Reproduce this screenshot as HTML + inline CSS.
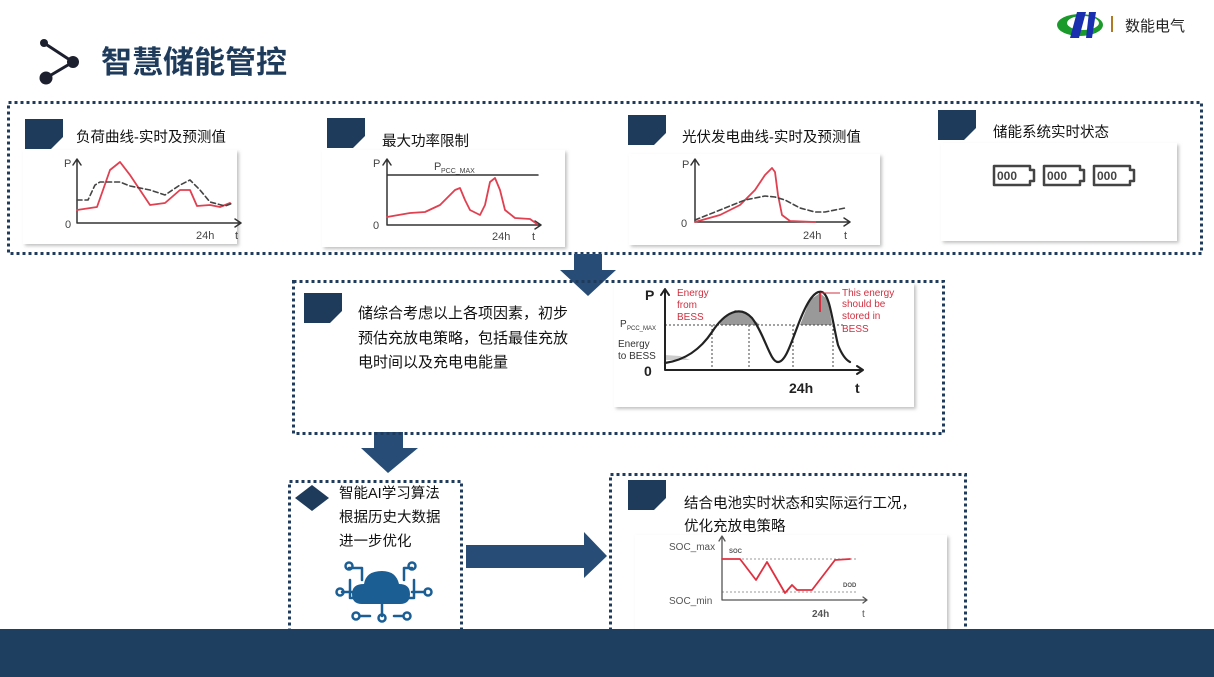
<!DOCTYPE html>
<html><head><meta charset="utf-8"><style>
body{margin:0;width:1214px;height:677px;overflow:hidden;background:#fff}
svg{display:block}
text{font-family:"Liberation Sans","Noto Sans CJK SC",sans-serif}
path{stroke-linejoin:round;stroke-linecap:round}
</style></head><body>
<svg width="1214" height="677" viewBox="0 0 1214 677" xmlns="http://www.w3.org/2000/svg">
<defs>
<filter id="sh" x="-5%" y="-5%" width="115%" height="120%"><feDropShadow dx="2" dy="2" stdDeviation="1.5" flood-color="#999" flood-opacity="0.6"/></filter>
<g id="ic"><path d="M0 0H38V18L26 30H0Z" fill="#1f3b5c"/></g>
</defs>
<!-- header -->
<line x1="44" y1="43" x2="73" y2="62" stroke="#1c1f2e" stroke-width="3"/>
<line x1="73" y1="62" x2="46" y2="78" stroke="#1c1f2e" stroke-width="3"/>
<circle cx="44" cy="43" r="4" fill="#1c1f2e"/><circle cx="73" cy="62" r="6" fill="#1c1f2e"/><circle cx="46" cy="78" r="6.5" fill="#1c1f2e"/>
<text x="101" y="73" font-size="31" font-weight="bold" fill="#1f3b5c">智慧储能管控</text>
<ellipse cx="1080" cy="25" rx="23" ry="11" fill="#1a9a2a"/>
<ellipse cx="1083" cy="23" rx="16" ry="7" fill="#fff"/>
<path d="M1077 12 L1086 12 L1079 38 L1070 38 Z" fill="#1a2fb0"/>
<path d="M1089 12 L1096 12 L1092 38 L1086 38 Z" fill="#1a2fb0"/>
<rect x="1111" y="16" width="2" height="16" fill="#b07a20"/>
<text x="1125" y="31" font-size="15" fill="#222">数能电气</text>

<!-- top box -->
<rect x="8.5" y="102.5" width="1193" height="151" fill="none" stroke="#1f3b5c" stroke-width="3" stroke-dasharray="3 3"/>
<use href="#ic" x="25" y="119"/><use href="#ic" x="327" y="118"/><use href="#ic" x="628" y="115"/><use href="#ic" x="938" y="110"/>
<g font-size="14.5" fill="#111">
<text x="76" y="142">负荷曲线-实时及预测值</text>
<text x="382" y="146">最大功率限制</text>
<text x="682" y="142">光伏发电曲线-实时及预测值</text>
<text x="993" y="137">储能系统实时状态</text></g>

<!-- chart1 -->
<rect x="23" y="150" width="214" height="94" fill="#fff" filter="url(#sh)"/>
<g stroke="#333" stroke-width="1.5" fill="none"><path d="M77 223V160M73 165L77 159L81 165M77 223H240M235 219L241 223L235 227"/></g>
<path d="M77 210 L97 207 L103 190 L110 170 L120 162 L130 175 L150 205 L165 203 L180 190 L190 190 L197 206 L210 205 L220 207 L230 203" stroke="#e04050" stroke-width="1.8" fill="none"/>
<path d="M77 200 L88 200 L95 185 L100 182 L120 182 L130 186 L150 190 L165 195 L180 185 L190 180 L200 190 L210 202 L225 206 L233 203" stroke="#444" stroke-width="1.6" stroke-dasharray="5 3" fill="none"/>
<g font-size="11" fill="#444"><text x="64" y="167">P</text><text x="65" y="228">0</text><text x="196" y="239">24h</text><text x="235" y="239">t</text></g>

<!-- chart2 -->
<rect x="322" y="150" width="243" height="97" fill="#fff" filter="url(#sh)"/>
<g stroke="#333" stroke-width="1.5" fill="none"><path d="M387 225V160M383 165L387 159L391 165M387 225H540M535 221L541 225L535 229M387 175H538"/></g>
<path d="M387 217 L410 213 L425 212 L440 205 L450 195 L455 190 L460 188 L465 200 L470 210 L480 215 L485 205 L490 182 L495 178 L500 190 L505 210 L515 218 L530 219 L537 224" stroke="#e04050" stroke-width="1.8" fill="none"/>
<g font-size="11" fill="#444"><text x="373" y="167">P</text><text x="373" y="229">0</text><text x="492" y="240">24h</text><text x="532" y="240">t</text><text x="434" y="170">P</text><text x="441" y="173" font-size="7">PCC_MAX</text></g>

<!-- chart3 -->
<rect x="629" y="154" width="251" height="91" fill="#fff" filter="url(#sh)"/>
<g stroke="#333" stroke-width="1.5" fill="none"><path d="M695 222V160M691 165L695 159L699 165M695 222H849M844 218L850 222L844 226"/></g>
<path d="M695 222 L720 215 L740 205 L755 190 L765 175 L772 168 L775 172 L778 195 L782 215 L790 221 L815 222" stroke="#e04050" stroke-width="1.8" fill="none"/>
<path d="M695 220 L720 210 L745 200 L765 196 L775 197 L785 200 L800 208 L815 212 L825 212 L845 208" stroke="#444" stroke-width="1.6" stroke-dasharray="5 3" fill="none"/>
<g font-size="11" fill="#444"><text x="682" y="168">P</text><text x="681" y="227">0</text><text x="803" y="239">24h</text><text x="844" y="239">t</text></g>

<!-- panel4 -->
<rect x="941" y="143" width="236" height="98" fill="#fff" filter="url(#sh)"/>
<g stroke="#444" stroke-width="2.5" fill="none">
<path d="M994 166H1030V170H1034V181H1030V185H994Z"/><path d="M1044 166H1080V170H1084V181H1080V185H1044Z"/><path d="M1094 166H1130V170H1134V181H1130V185H1094Z"/></g>
<g font-size="12" font-weight="bold" fill="#444"><text x="997" y="180">000</text><text x="1047" y="180">000</text><text x="1097" y="180">000</text></g>

<!-- arrows down -->
<path d="M574 254H602V270H616L588 296L560 270H574Z" fill="#274d77"/>
<path d="M374 432H403V448H418L388 473L361 448H374Z" fill="#274d77"/>

<!-- mid box -->
<rect x="293.5" y="281.5" width="650" height="152" fill="none" stroke="#1f3b5c" stroke-width="3" stroke-dasharray="3 3"/>
<use href="#ic" x="304" y="293"/>
<g font-size="15" fill="#111"><text x="358" y="318">储综合考虑以上各项因素，初步</text><text x="358" y="343">预估充放电策略，包括最佳充放</text><text x="358" y="367">电时间以及充电电能量</text></g>
<rect x="614" y="283" width="300" height="124" fill="#fff" filter="url(#sh)"/>
<path d="M720 322 L735 310 L745 312 L760 325 L720 325Z M800 325 L810 300 L820 293 L828 300 L832 325Z" fill="#999"/>
<path d="M665 355 L680 356 L690 360 L665 360Z" fill="#ccc"/>
<line x1="665" y1="325" x2="845" y2="325" stroke="#444" stroke-dasharray="2 2"/>
<g stroke="#444" stroke-dasharray="2 2"><line x1="712" y1="325" x2="712" y2="370"/><line x1="749" y1="325" x2="749" y2="370"/><line x1="793" y1="325" x2="793" y2="370"/><line x1="833" y1="325" x2="833" y2="370"/></g>
<g stroke="#222" stroke-width="2" fill="none"><path d="M665 370V290M661 295L665 289L669 295M665 370H862M857 366L863 370L857 374"/></g>
<path d="M665 363 C685 360 700 350 712 332 C725 312 740 305 752 318 C765 335 770 362 778 362 C786 362 792 340 800 320 C808 300 815 290 822 292 C830 295 832 320 838 345 C842 355 846 360 850 362" stroke="#222" stroke-width="2.2" fill="none"/>
<line x1="820" y1="293" x2="820" y2="312" stroke="#d03040" stroke-width="2"/>
<line x1="820" y1="293" x2="840" y2="293" stroke="#d03040" stroke-width="1"/>
<g font-size="14" font-weight="bold" fill="#222"><text x="645" y="300">P</text><text x="644" y="376">0</text><text x="789" y="393">24h</text><text x="855" y="393">t</text></g>
<g font-size="10" fill="#333"><text x="620" y="327">P</text><text x="627" y="330" font-size="6">PCC_MAX</text><text x="618" y="347">Energy</text><text x="618" y="359">to BESS</text></g>
<g font-size="10" fill="#d03040"><text x="677" y="296">Energy</text><text x="677" y="308">from</text><text x="677" y="320">BESS</text><text x="842" y="296">This energy</text><text x="842" y="307">should be</text><text x="842" y="319">stored in</text><text x="842" y="332">BESS</text></g>

<!-- left box -->
<rect x="289.5" y="481.5" width="172" height="152" fill="none" stroke="#1f3b5c" stroke-width="3" stroke-dasharray="3 3"/>
<path d="M295 498L312 485L329 498L312 511Z" fill="#1f3b5c"/>
<g font-size="14.5" fill="#111"><text x="339" y="498">智能AI学习算法</text><text x="339" y="522">根据历史大数据</text><text x="339" y="546">进一步优化</text></g>
<!-- cloud icon -->
<g stroke="#1a5e94" stroke-width="2.5" fill="none">
<path d="M372 586V598H350V580M352 592H342M392 586V598H414V580M412 592H425M362 580V568H349M404 580V568H412M382 604V616M370 616H360M394 616H403"/>
<circle cx="349" cy="566" r="3.5"/><circle cx="412" cy="566" r="3.5"/><circle cx="340" cy="592" r="3.5"/><circle cx="428" cy="592" r="3.5"/><circle cx="356" cy="616" r="3.5"/><circle cx="382" cy="618" r="3.5"/><circle cx="407" cy="616" r="3.5"/></g>
<path d="M362 604 Q352 604 352 594 Q352 584 364 584 Q366 571 382 571 Q396 571 399 584 Q410 584 410 594 Q410 604 400 604Z" fill="#1a5e94"/>

<!-- big right arrow -->
<path d="M466 545H584V532L607 556L584 578V568H466Z" fill="#274d77"/>

<!-- right box -->
<rect x="610.5" y="474.5" width="355" height="158" fill="none" stroke="#1f3b5c" stroke-width="3" stroke-dasharray="3 3"/>
<use href="#ic" x="628" y="480"/>
<g font-size="14.5" fill="#111"><text x="684" y="508">结合电池实时状态和实际运行工况，</text><text x="684" y="531">优化充放电策略</text></g>
<rect x="635" y="535" width="312" height="96" fill="#fff" filter="url(#sh)"/>
<g stroke="#999" stroke-dasharray="2 2"><line x1="722" y1="559" x2="857" y2="559"/><line x1="722" y1="592" x2="857" y2="592"/></g>
<g stroke="#555" stroke-width="1.3" fill="none"><path d="M722 600V537M719 541L722 536L725 541M722 600H867M863 597L867 600L863 603"/></g>
<path d="M722 559 L740 559 L756 580 L767 562 L785 593 L792 585 L797 590 L812 590 L835 560 L850 559" stroke="#e03040" stroke-width="1.8" fill="none"/>
<g font-size="10" fill="#555"><text x="669" y="550">SOC_max</text><text x="669" y="604">SOC_min</text><text x="812" y="617" font-weight="bold">24h</text><text x="862" y="617">t</text><text x="729" y="553" font-size="6" font-weight="bold">SOC</text><text x="843" y="587" font-size="6" font-weight="bold">DOD</text></g>

<!-- footer -->
<rect x="0" y="629" width="1214" height="48" fill="#1f3f60"/>
</svg>
</body></html>
